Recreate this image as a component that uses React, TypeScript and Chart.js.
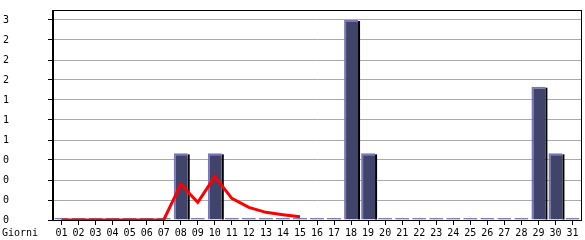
import React, { useEffect, useRef } from "react";
import { Chart, registerables } from "chart.js";

Chart.register(...registerables);

const days = ["01","02","03","04","05","06","07","08","09","10","11","12","13","14","15","16","17","18","19","20","21","22","23","24","25","26","27","28","29","30","31"];
const visits = [0,0,0,0,0,0,0,1,0,1,0,0,0,0,0,0,0,3,1,0,0,0,0,0,0,0,0,0,2,1,0];
const trend = [0,0,0,0,0,0,0,0.535,0.265,0.65,0.325,0.19,0.115,0.08,0.05,null,null,null,null,null,null,null,null,null,null,null,null,null,null,null,null];
const yTickValues = [0,0.3,0.6,0.9,1.2,1.5,1.8,2.1,2.4,2.7,3.0];
const yTickLabels = ["0","0","0","0","1","1","1","2","2","2","3"];
const xAxisTitle = "Giorni";

const FONT = "'DejaVu Sans Mono', monospace";

export default function App() {
  const ref = useRef<HTMLCanvasElement | null>(null);
  useEffect(() => {
    document.body.style.margin = "0";
    const ctx = ref.current!.getContext("2d")!;
    const decor = {
      id: "decor",
      afterDatasetDraw(chart: any, args: any) {
        if (args.index !== 1) return;
        const c = chart.ctx;
        const meta = chart.getDatasetMeta(1);
        c.save();
        c.fillStyle = "#000";
        meta.data.forEach((el: any, i: number) => {
          if (!visits[i]) return;
          const p = el.getProps(["x", "y", "base", "width"], true);
          c.fillRect(p.x + p.width / 2, p.y + 1, 2, p.base - p.y - 1);
        });
        c.restore();
      },
      afterDraw(chart: any) {
        const c = chart.ctx;
        const a = chart.chartArea;
        c.save();
        c.strokeStyle = "#000";
        c.lineWidth = 1;
        c.strokeRect(Math.round(a.left) - 0.5, Math.round(a.top) + 0.5, Math.round(a.right - a.left) + 1, Math.round(a.bottom - a.top));
        c.fillStyle = "#000";
        c.font = "10px " + FONT;
        c.textBaseline = "middle";
        c.textAlign = "left";
        c.fillText(xAxisTitle, 2, 233);
        c.restore();
      },
    };
    const chart = new Chart(ctx, {
      type: "bar",
      data: {
        labels: days,
        datasets: [
          {
            type: "line",
            data: trend as any,
            borderColor: "#ff0000",
            borderWidth: 3,
            pointRadius: 0,
            tension: 0,
            spanGaps: false,
            order: 0,
          } as any,
          {
            type: "bar",
            data: visits,
            backgroundColor: "#40446a",
            borderColor: "#7878b8",
            borderWidth: { top: 2, left: 2, right: 0, bottom: 0 },
            borderSkipped: false,
            minBarLength: 2,
            barPercentage: 0.82,
            categoryPercentage: 1,
            order: 1,
          } as any,
        ],
      },
      plugins: [decor],
      options: {
        animation: false,
        responsive: false,
        maintainAspectRatio: false,
        devicePixelRatio: 1,
        layout: { padding: { top: 10, right: 4, left: 3, bottom: 0 } },
        plugins: { legend: { display: false }, tooltip: { enabled: false } },
        scales: {
          x: {
            offset: true,
            grid: { offset: false, drawOnChartArea: false, drawTicks: true, tickLength: 5, tickColor: "#000" },
            border: { display: true, color: "#000" },
            ticks: { color: "#000", font: { family: FONT, size: 10 }, padding: 2, maxRotation: 0, autoSkip: false },
            afterFit(s: any) { s.height = 20; },
          },
          y: {
            min: 0,
            max: 3.15,
            afterBuildTicks(s: any) { s.ticks = yTickValues.map((v) => ({ value: v })); },
            grid: { color: "#aaaaaa", tickColor: "#000", tickLength: 5, drawTicks: true },
            border: { display: true, color: "#000" },
            ticks: {
              color: "#000",
              font: { family: FONT, size: 10 },
              crossAlign: "far",
              padding: 3,
              callback: (_v: any, i: number) => yTickLabels[i],
            },
            afterFit(s: any) { s.width = 50; },
          },
        },
      },
    });
    return () => chart.destroy();
  }, []);
  return (
    <div style={{ position: "absolute", left: 0, top: 0, width: 585, height: 240 }}>
      <canvas ref={ref} width={585} height={240} style={{ width: 585, height: 240 }} />
    </div>
  );
}
